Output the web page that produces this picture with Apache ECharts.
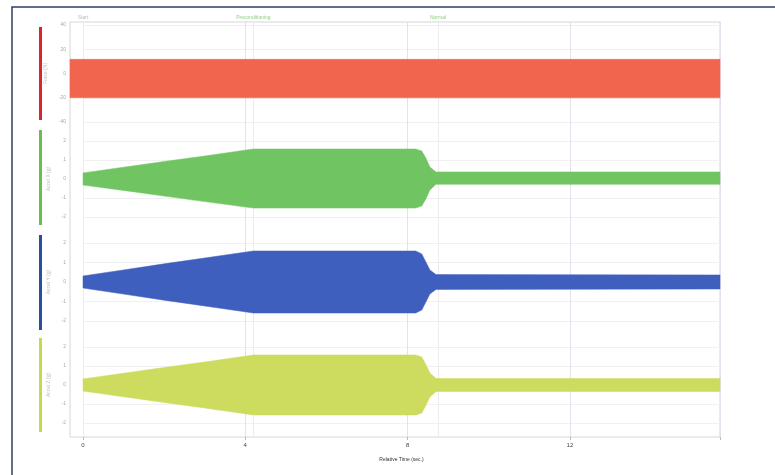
<!DOCTYPE html>
<html><head><meta charset="utf-8">
<script src="https://cdn.jsdelivr.net/npm/echarts@6/dist/echarts.min.js"></script>
<style>html,body{margin:0;padding:0;background:#fff}#c{width:775px;height:475px}</style>
</head><body><div id="c"></div>
<script>
// ---- data ----
const X_TICKS = [0, 4, 8, 12];
const X_NAME = 'Relative Time (sec.)';
const PHASE_T = [0, 4.2, 8.75];
const PHASE_LABELS = ['Start', 'Preconditioning', 'Normal'];

const CH_NAMES = ['Force (N)', 'Accel X (g)', 'Accel Y (g)', 'Accel Z (g)'];

// red channel: constant amplitude envelope
const RED_T = [-0.32, 15.7];
const RED_UP = [11.7, 11.7];
const RED_LO = [-20, -20];

// shared envelope time points for the swept channels
const ENV_T = [0, 1, 2, 3, 4.2, 8.2, 8.35, 8.45, 8.55, 8.7, 15.7];
const GREEN_UP = [0.32, 0.62, 0.92, 1.21, 1.58, 1.58, 1.47, 1.1, 0.63, 0.37, 0.37];
const GREEN_LO = [-0.32, -0.6, -0.9, -1.19, -1.53, -1.53, -1.42, -1.05, -0.58, -0.28, -0.28];
const BLUE_UP = [0.31, 0.62, 0.93, 1.23, 1.59, 1.59, 1.44, 1.03, 0.62, 0.38, 0.36];
const BLUE_LO = [-0.31, -0.62, -0.93, -1.23, -1.59, -1.59, -1.44, -1.03, -0.62, -0.38, -0.36];
const YEL_UP = [0.32, 0.62, 0.92, 1.21, 1.58, 1.58, 1.47, 1.08, 0.63, 0.34, 0.34];
const YEL_LO = [-0.32, -0.62, -0.92, -1.21, -1.58, -1.58, -1.47, -1.08, -0.63, -0.34, -0.34];

// ---- chart ----
const X_MIN = 0, X_MAX = 15.7;
const COLORS = ['#f1654e', '#71c462', '#3f5fbf', '#cddb5e'];
const BAR_COLORS = ['#d9262c', '#69bf4a', '#2c4e9f', '#c9d84a'];

const chart = echarts.init(document.getElementById('c'), null, {renderer: 'canvas'});

const panels = [
  {top: 25, height: 97, min: -40, max: 40, interval: 20, hideEnds: false},
  {top: 122, height: 114, min: -3, max: 3, interval: 1, hideEnds: true},
  {top: 223.5, height: 117, min: -3, max: 3, interval: 1, hideEnds: true},
  {top: 328, height: 114, min: -3, max: 3, interval: 1, hideEnds: true}
];

const grids = [{left: 83, right: 55, top: 22, bottom: 38}];
const xAxes = [{
  gridIndex: 0, type: 'value', min: X_MIN, max: X_MAX, interval: 4,
  axisLine: {show: false},
  axisTick: {show: true, length: 3, lineStyle: {color: '#bbb'}},
  axisLabel: {fontSize: 6, color: '#444', margin: 5,
    formatter: v => X_TICKS.includes(v) ? String(v) : ''},
  splitLine: {show: true, lineStyle: {color: '#e4e0ee', width: 1}},
  name: X_NAME, nameLocation: 'middle', nameGap: 20,
  nameTextStyle: {fontSize: 5, color: '#333'}
}];
const yAxes = [{gridIndex: 0, type: 'value', min: 0, max: 1, show: false}];

panels.forEach((p, i) => {
  grids.push({left: 83, right: 55, top: p.top, height: p.height});
  xAxes.push({gridIndex: i + 1, type: 'value', min: X_MIN, max: X_MAX, show: false});
  yAxes.push({
    gridIndex: i + 1, type: 'value', min: p.min, max: p.max, interval: p.interval,
    offset: 13,
    axisLine: {show: false}, axisTick: {show: false},
    axisLabel: {fontSize: 5, color: '#aaa', margin: 4,
      showMinLabel: !p.hideEnds, showMaxLabel: !p.hideEnds},
    splitLine: {show: true, showMinLine: !p.hideEnds, showMaxLine: !p.hideEnds,
      lineStyle: {color: '#f0f0f0', width: 1}},
    name: CH_NAMES[i], nameLocation: 'middle', nameGap: 17,
    nameTextStyle: {fontSize: 5, color: '#bbb'}
  });
});

function band(idx, T, up, lo, color) {
  return {
    type: 'custom', xAxisIndex: idx, yAxisIndex: idx, clip: false, silent: true, z: 5,
    data: [[T[0], 0]],
    renderItem: (params, api) => {
      const pts = [];
      for (let i = 0; i < T.length; i++) pts.push(api.coord([T[i], up[i]]));
      for (let i = T.length - 1; i >= 0; i--) pts.push(api.coord([T[i], lo[i]]));
      return {type: 'polygon', shape: {points: pts}, style: {fill: color, stroke: color, lineWidth: 0.5}};
    }
  };
}

const series = [
  {
    type: 'line', xAxisIndex: 0, yAxisIndex: 0, data: [], silent: true, z: 1,
    markLine: {
      silent: true, symbol: 'none',
      lineStyle: {color: '#ececec', type: 'solid', width: 1},
      label: {position: 'end', fontSize: 5, distance: 2,
        formatter: p => PHASE_LABELS[p.dataIndex]},
      data: PHASE_T.map((t, k) => ({xAxis: t, label: {color: k === 0 ? '#bbb' : '#8fcf84'}}))
    }
  },
  band(1, RED_T, RED_UP, RED_LO, COLORS[0]),
  band(2, ENV_T, GREEN_UP, GREEN_LO, COLORS[1]),
  band(3, ENV_T, BLUE_UP, BLUE_LO, COLORS[2]),
  band(4, ENV_T, YEL_UP, YEL_LO, COLORS[3])
];

const sideBars = [[27, 120], [130, 225], [235, 330], [338, 432]];
const graphic = [
  {type: 'rect', z: 0, shape: {x: 12, y: 7, width: 800, height: 500},
   style: {fill: 'none', stroke: '#2b3f63', lineWidth: 1.5}},
  {type: 'rect', z: 0, shape: {x: 70, y: 22, width: 650, height: 415},
   style: {fill: 'none', stroke: '#d6d6d6', lineWidth: 1}}
].concat(sideBars.map((b, i) => ({
  type: 'rect', shape: {x: 39, y: b[0], width: 3, height: b[1] - b[0]},
  style: {fill: BAR_COLORS[i]}
})));

chart.setOption({
  animation: false,
  backgroundColor: '#fff',
  grid: grids, xAxis: xAxes, yAxis: yAxes, series: series, graphic: graphic
});
</script></body></html>
